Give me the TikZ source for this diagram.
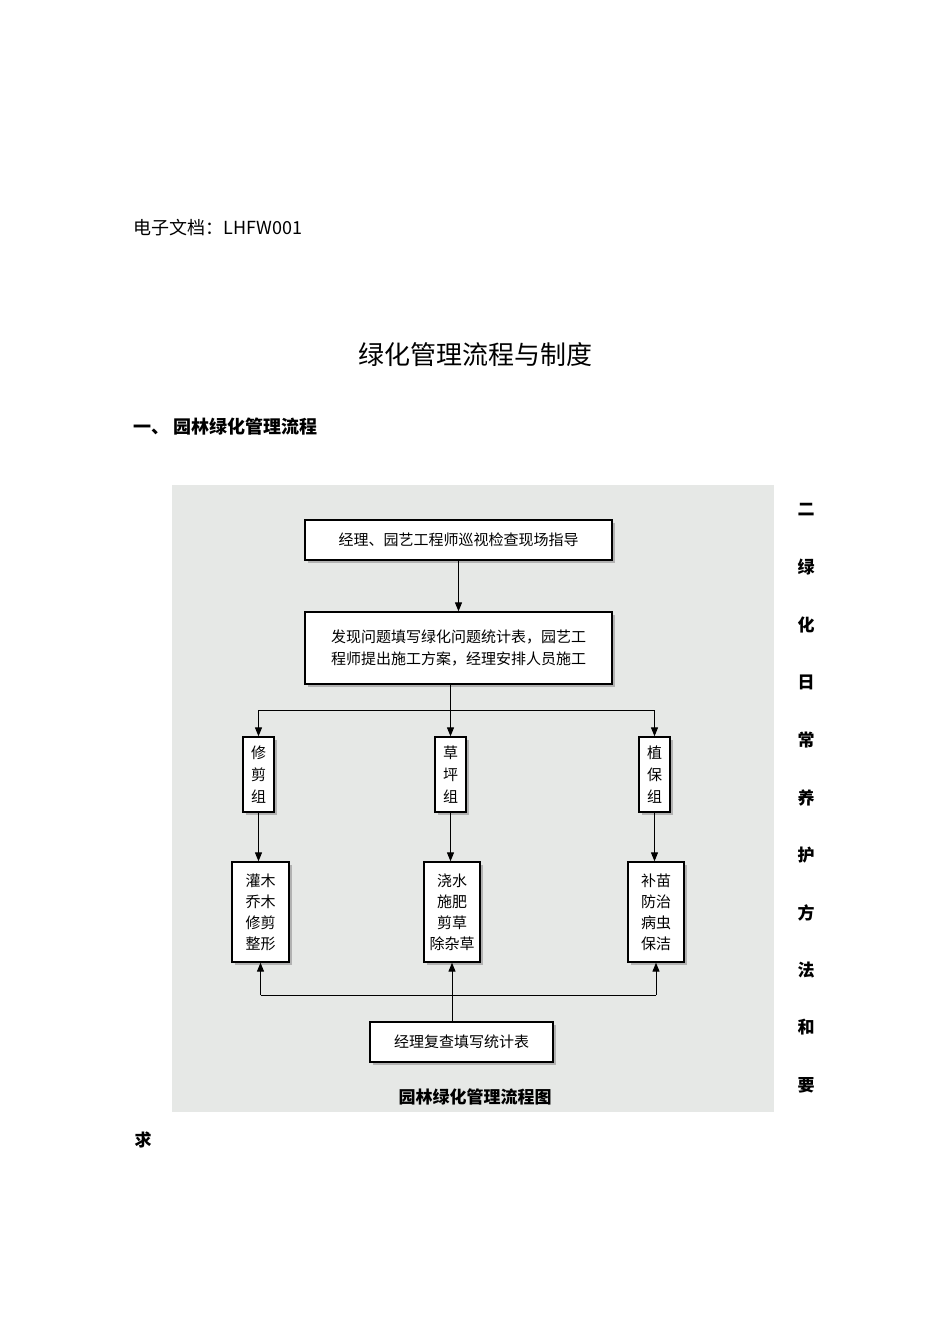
\documentclass[tikz,border=0pt]{standalone}
\usepackage{fontspec}
\setmainfont{Noto Sans CJK SC}
\usetikzlibrary{arrows.meta}
\definecolor{panel}{HTML}{E6E8E6}
\tikzset{
  fbox/.style={draw=black,line width=1.3pt,fill=white,inner sep=0pt,
    drop shadow={shadow xshift=2.5pt,shadow yshift=-2.5pt,fill=gray!60,opacity=1},font=\fontsize{15}{22}\selectfont,align=center},
  conn/.style={line width=1pt,-{Triangle[length=9pt,width=7pt]}},
  ln/.style={line width=1pt}
}
\usetikzlibrary{shadows}
\begin{document}
\begin{tikzpicture}[x=1pt,y=-1pt]
\useasboundingbox (0,0) rectangle (950,1342);
\fill[white] (0,0) rectangle (950,1342);
\node[anchor=west,font=\fontsize{18}{20}\selectfont] (doc) at (130,228) {电子文档：LHFW001};
\node[font=\fontsize{26}{28}\selectfont] (title) at (475,355) {绿化管理流程与制度};
\node[anchor=west,font=\bfseries\fontsize{18}{20}\selectfont] (sec1) at (130,427) {一、 园林绿化管理流程};
\fill[panel] (172,485) rectangle (774,1112);
\node[fbox,minimum width=307,minimum height=40] (b1) at (458.5,540) {经理、园艺工程师巡视检查现场指导};
\node[fbox,minimum width=307,minimum height=72] (b2) at (458.5,648) {发现问题填写绿化问题统计表，园艺工\\程师提出施工方案，经理安排人员施工};
\node[fbox,minimum width=31,minimum height=75] (g1) at (258.5,774.5) {修\\剪\\组};
\node[fbox,minimum width=31,minimum height=75] (g2) at (450.5,774.5) {草\\坪\\组};
\node[fbox,minimum width=31,minimum height=75] (g3) at (654.5,774.5) {植\\保\\组};
\node[fbox,minimum width=57,minimum height=100,font=\fontsize{15}{21}\selectfont] (t1) at (260.5,912) {灌木\\乔木\\修剪\\整形};
\node[fbox,minimum width=56,minimum height=100,font=\fontsize{15}{21}\selectfont] (t2) at (452,912) {浇水\\施肥\\剪草\\除杂草};
\node[fbox,minimum width=56,minimum height=100,font=\fontsize{15}{21}\selectfont] (t3) at (656,912) {补苗\\防治\\病虫\\保洁};
\node[fbox,minimum width=183,minimum height=40] (b3) at (461.5,1042) {经理复查填写统计表};
\node[font=\bfseries\fontsize{17}{19}\selectfont] (cap) at (475,1097) {园林绿化管理流程图};
\draw[conn] (b1) -- (b2);
\coordinate (j) at (450.5,710);
\draw[ln] (450.5,684) -- (j);
\draw[ln] (g1.north |- j) -- (g3.north |- j);
\draw[conn] (g1.north |- j) -- (g1.north);
\draw[conn] (j) -- (g2.north);
\draw[conn] (g3.north |- j) -- (g3.north);
\draw[conn] (g1) -- (t1.north -| g1);
\draw[conn] (g2) -- (t2.north -| g2);
\draw[conn] (g3) -- (t3.north -| g3);
\coordinate (k) at (452,995);
\draw[conn] (b3.north -| k) -- (t2.south);
\draw[ln] (t1.south |- k) -- (t3.south |- k);
\draw[conn] (t1.south |- k) -- (t1.south);
\draw[conn] (t3.south |- k) -- (t3.south);
\foreach \c [count=\i from 0] in {二,绿,化,日,常,养,护,方,法,和,要}
  \node[font=\bfseries\fontsize{17}{19}\selectfont] (v\i) at (806,510+57.5*\i) {\c};
\node[font=\bfseries\fontsize{17}{19}\selectfont] (last) at (143,1140) {求};
\end{tikzpicture}
\end{document}
